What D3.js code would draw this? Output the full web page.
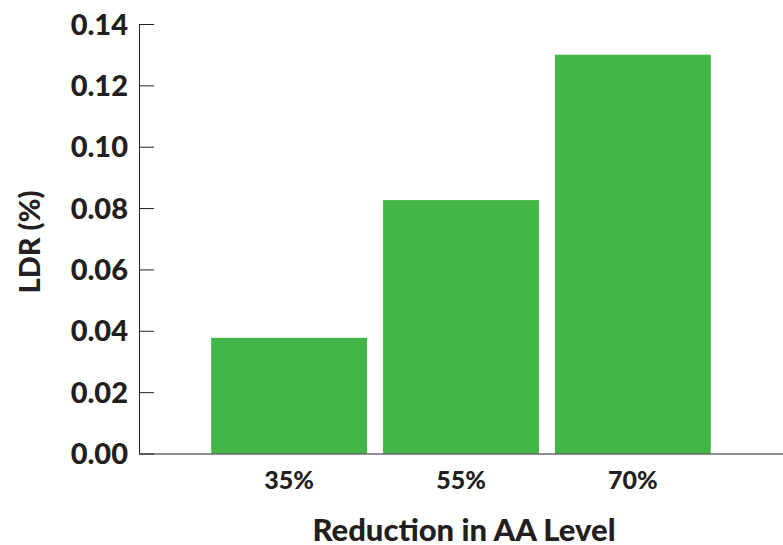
<!DOCTYPE html>
<html>
<head>
<meta charset="utf-8">
<script src="https://cdn.jsdelivr.net/npm/d3@7"></script>
<style>
  body { margin: 0; background: #fff; }
  text { font-family: Lato, "Open Sans", sans-serif; font-weight: 900; fill: #231f20; }
</style>
</head>
<body>
<div id="chart"></div>
<script>
// chart data
const categories = ["35%", "55%", "70%"];
const ldrValues = [0.0377, 0.0826, 0.13];
const yTicks = [0, 0.02, 0.04, 0.06, 0.08, 0.10, 0.12, 0.14];

const width = 783, height = 545;
const margin = {top: 24, right: 0, bottom: 91.5, left: 139};

const svg = d3.select("#chart").append("svg")
    .attr("width", width)
    .attr("height", height);

// scales
const x = d3.scaleBand()
    .domain(categories)
    .range([margin.left, width - margin.right])
    .paddingInner(0.093)
    .paddingOuter(0.42);

const y = d3.scaleLinear()
    .domain([0, 0.14])
    .range([height - margin.bottom, margin.top]);

// bars
svg.selectAll("rect.bar")
    .data(ldrValues)
    .enter().append("rect")
    .attr("class", "bar")
    .attr("x", (d, i) => x(categories[i]))
    .attr("width", x.bandwidth())
    .attr("y", d => y(d))
    .attr("height", d => y(0) - y(d))
    .attr("fill", "#43b649");

// y axis, ticks pointing into the plot
const yAxis = svg.append("g")
    .attr("transform", "translate(" + margin.left + ",0)")
    .call(d3.axisRight(y).tickValues(yTicks).tickSize(15).tickFormat(d3.format(".2f")));
yAxis.select(".domain").attr("stroke", "#231f20").attr("d", "M0.5," + y(0.14) + "V" + y(0));
yAxis.selectAll(".tick line").attr("stroke", "#231f20");
yAxis.selectAll(".tick text")
    .attr("x", -11)
    .attr("text-anchor", "end")
    .attr("dy", "0.35em")
    .style("font-size", "29px");

// x axis
const xAxis = svg.append("g")
    .attr("transform", "translate(0," + y(0) + ")")
    .call(d3.axisBottom(x).tickSize(0).tickPadding(18));
xAxis.select(".domain").attr("stroke", "#231f20").attr("d", "M" + margin.left + ",0.5H" + width);
xAxis.selectAll(".tick text")
    .style("font-size", "25px");

// axis titles
svg.append("text")
    .attr("x", 464)
    .attr("y", 541)
    .attr("text-anchor", "middle")
    .style("font-size", "31px")
    .text("Reduction in AA Level");

svg.append("text")
    .attr("transform", "translate(40,242) rotate(-90)")
    .attr("text-anchor", "middle")
    .style("font-size", "29px")
    .text("LDR (%)");
</script>
</body>
</html>
